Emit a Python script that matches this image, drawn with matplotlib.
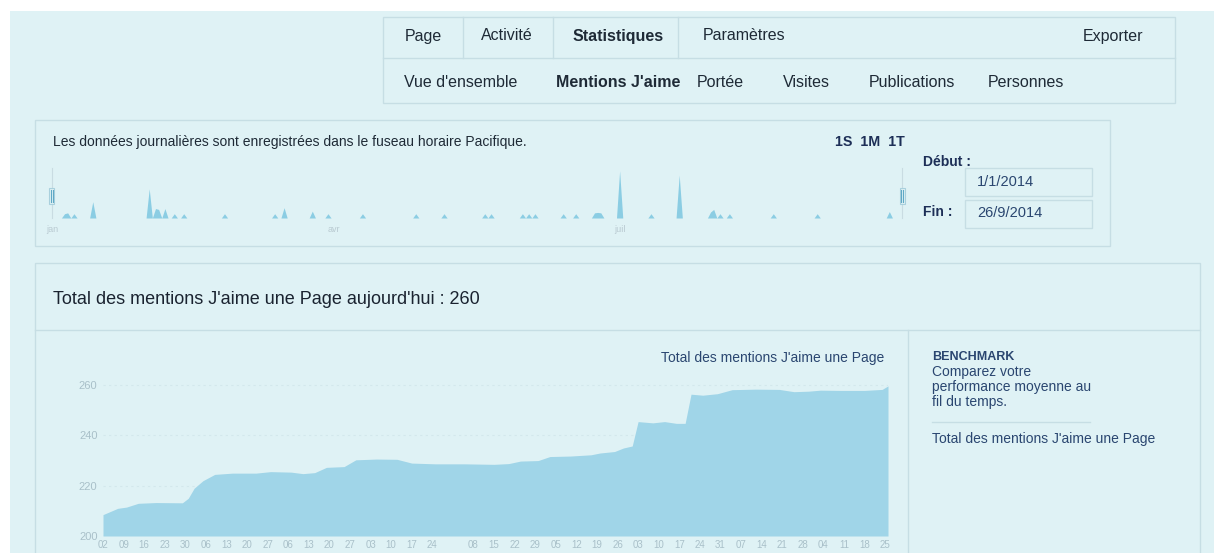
import matplotlib
matplotlib.use('Agg')
import matplotlib.pyplot as plt
from matplotlib.patches import Rectangle
from matplotlib.lines import Line2D
import pandas as pd

# cumulative page likes (main area chart)
like_dates = ['2014-01-02', '2014-01-04', '2014-01-07', '2014-01-10', '2014-01-14', '2014-01-20',
              '2014-01-29', '2014-01-31', '2014-02-02', '2014-02-05', '2014-02-09', '2014-02-15',
              '2014-02-23', '2014-02-28', '2014-03-07', '2014-03-11', '2014-03-15', '2014-03-19',
              '2014-03-25', '2014-03-29', '2014-04-05', '2014-04-12', '2014-04-17', '2014-04-25',
              '2014-05-05', '2014-05-15', '2014-05-20', '2014-05-24', '2014-05-30', '2014-06-03',
              '2014-06-10', '2014-06-17', '2014-06-20', '2014-06-25', '2014-06-28', '2014-07-01',
              '2014-07-03', '2014-07-08', '2014-07-12', '2014-07-16', '2014-07-19', '2014-07-21',
              '2014-07-25', '2014-07-30', '2014-08-04', '2014-08-12', '2014-08-20', '2014-08-25',
              '2014-08-30', '2014-09-03', '2014-09-10', '2014-09-18', '2014-09-24', '2014-09-26']
like_totals = [208.5, 209.5, 211, 211.5, 213, 213.3,
               213.2, 215, 219, 222, 224.5, 225,
               225, 225.6, 225.4, 224.8, 225.2, 227.3,
               227.6, 230.3, 230.6, 230.5, 229, 228.7,
               228.7, 228.5, 228.8, 229.8, 230, 231.6,
               231.8, 232.3, 233, 233.6, 235, 235.8,
               245.5, 245, 245.5, 244.8, 244.8, 256.4,
               256, 256.6, 258.2, 258.4, 258.3, 257.4,
               257.6, 258, 257.9, 257.9, 258.3, 259.7]

y_ticks = [200, 220, 240, 260]
week_labels = ['02', '09', '16', '23', '30', '06', '13', '20', '27', '06', '13', '20', '27',
               '03', '10', '17', '24', '', '08', '15', '22', '29', '05', '12', '19', '26',
               '03', '10', '17', '24', '31', '07', '14', '21', '28', '04', '11', '18', '25']

# daily new likes (timeline strip at the top)
spike_dates = ['2014-01-05', '2014-01-06', '2014-01-08', '2014-01-14', '2014-02-01', '2014-02-03',
               '2014-02-04', '2014-02-06', '2014-02-09', '2014-02-12', '2014-02-25', '2014-03-13',
               '2014-03-16', '2014-03-25', '2014-03-30', '2014-04-10', '2014-04-27', '2014-05-06',
               '2014-05-19', '2014-05-21', '2014-05-31', '2014-06-02', '2014-06-04', '2014-06-13',
               '2014-06-17', '2014-06-23', '2014-06-24', '2014-06-25', '2014-07-01', '2014-07-11',
               '2014-07-20', '2014-07-30', '2014-07-31', '2014-08-02', '2014-08-05', '2014-08-19',
               '2014-09-02', '2014-09-25']
spike_values = [1, 1.2, 1, 3.8, 6.8, 2.2,
                2, 2.2, 1, 1, 1, 1,
                2.4, 1.6, 1, 1, 1, 1,
                1, 1, 1, 1, 1, 1,
                1, 1.2, 1.3, 1.2, 11, 1,
                10, 1.4, 2, 1, 1, 1,
                1, 1.5]

plt.rcParams['font.family'] = ['Liberation Sans', 'DejaVu Sans']

W, H = 1214, 553
BG = '#dff2f5'
LINE = '#c6dee4'
DARK = '#1e2a36'
NAVY = '#2a4670'
FILL = '#a0d5e8'

fig = plt.figure(figsize=(W / 100, H / 100), dpi=100)
fig.patch.set_facecolor('white')


def fx(x):
    return x / W


def fy(y):
    return 1 - y / H


def txt(x, y, s, **kw):
    kw.setdefault('color', DARK)
    kw.setdefault('va', 'center')
    fig.text(fx(x), fy(y), s, zorder=6, **kw)


def rect(x0, y0, x1, y1, ec=LINE, fc='none', lw=1.0, z=1):
    fig.patches.append(Rectangle((fx(x0), fy(y1)), (x1 - x0) / W, (y1 - y0) / H,
                                 transform=fig.transFigure, fc=fc, ec=ec, lw=lw, zorder=z))


def hline(x0, x1, y, c=LINE, lw=1.0):
    fig.lines.append(Line2D([fx(x0), fx(x1)], [fy(y), fy(y)], transform=fig.transFigure,
                            color=c, lw=lw, zorder=1))


def vline(x, y0, y1, c=LINE, lw=1.0, z=1):
    fig.lines.append(Line2D([fx(x), fx(x)], [fy(y0), fy(y1)], transform=fig.transFigure,
                            color=c, lw=lw, zorder=z))


def axes_px(x0, y0, x1, y1):
    a = fig.add_axes([fx(x0), fy(y1), (x1 - x0) / W, (y1 - y0) / H])
    a.set_facecolor('none')
    a.set_zorder(5)
    for s in a.spines.values():
        s.set_visible(False)
    return a


# page background
rect(10, 11, W + 5, H + 5, ec='none', fc=BG, z=0)

# navigation tabs
rect(383, 17, 1175, 103)
hline(383, 1175, 58)
vline(463, 17, 58)
vline(553, 17, 58)
vline(678, 17, 58)
txt(405, 36, 'Page', fontsize=11.5)
txt(481, 36, 'Activité', fontsize=11.5)
txt(573, 36, 'Statistiques', fontsize=11.5, fontweight='bold')
txt(703, 36, 'Paramètres', fontsize=11.5)
txt(1143, 36, 'Exporter', fontsize=11.5, ha='right')
txt(404, 82, "Vue d'ensemble", fontsize=11.5)
txt(556, 82, "Mentions J'aime", fontsize=11.5, fontweight='bold')
txt(697, 82, 'Portée', fontsize=11.5)
txt(783, 82, 'Visites', fontsize=11.5)
txt(869, 82, 'Publications', fontsize=11.5)
txt(988, 82, 'Personnes', fontsize=11.5)

# timeline box
rect(35, 120, 1110, 246)
txt(53, 142, 'Les données journalières sont enregistrées dans le fuseau horaire Pacifique.', fontsize=10)
txt(835, 142, '1S  1M  1T', fontsize=10.3, fontweight='bold', color='#1d2f57')
txt(923, 162, 'Début :', fontsize=10, fontweight='bold', color='#1d2f57')
txt(923, 212, 'Fin :', fontsize=10, fontweight='bold', color='#1d2f57')
rect(965, 168, 1092, 196)
rect(965, 200, 1092, 228)
txt(977, 182, '1/1/2014', fontsize=10.5, color=NAVY)
txt(977, 213, '26/9/2014', fontsize=10.5, color=NAVY)

days = pd.date_range('2014-01-01', '2014-09-30', freq='D')
daily = pd.Series(0.0, index=days)
daily[pd.to_datetime(spike_dates)] = spike_values
mini = axes_px(52, 160, 905, 218)
mini.fill_between(days, 0, daily.values, color='#8bcde3', lw=0)
mini.set_xlim(pd.Timestamp('2014-01-01'), pd.Timestamp('2014-09-30'))
mini.set_ylim(0, 13.5)
mini.set_yticks([])
mini.set_xticks(pd.to_datetime(['2014-01-01', '2014-04-01', '2014-07-01']))
mini.set_xticklabels(['jan', 'avr', 'juil'])
mini.tick_params(axis='x', length=0, pad=5, labelsize=6.5, labelcolor='#b9cad1')
for hx in (52, 902):
    vline(hx, 168, 218, c='#c9dce2', lw=0.8)
    rect(hx - 2.5, 188, hx + 2.5, 204, ec='#a9d0dd', fc=BG, lw=0.8, z=3)
    vline(hx - 0.8, 190, 202, c='#5fa9c6', lw=0.8, z=4)
    vline(hx + 0.8, 190, 202, c='#5fa9c6', lw=0.8, z=4)

# main panel
rect(35, 263, 1200, H + 5)
hline(35, 1200, 330)
vline(908, 330, H + 5)
txt(53, 300, "Total des mentions J'aime une Page aujourd'hui : 260", fontsize=13, color='#1a2330')

ax = axes_px(103, 360, 888, 536)
x = pd.to_datetime(like_dates)
ax.fill_between(x, 200, like_totals, color=FILL, lw=0, zorder=2)
ax.set_xlim(pd.Timestamp('2014-01-02'), pd.Timestamp('2014-09-26'))
ax.set_ylim(200, 270)
ax.set_yticks(y_ticks)
ax.set_yticklabels([str(v) for v in y_ticks])
ax.yaxis.grid(True, color='#d3e8ec', lw=0.8, ls=(0, (2, 3)), zorder=0)
ax.set_xticks(pd.date_range('2014-01-02', '2014-09-25', freq='7D'))
ax.set_xticklabels(week_labels)
ax.tick_params(axis='both', length=0, labelcolor='#a9c0c9')
ax.tick_params(axis='y', pad=4, labelsize=8)
ax.tick_params(axis='x', pad=3, labelsize=7)
txt(884, 358, "Total des mentions J'aime une Page", fontsize=10, color=NAVY, ha='right')

# benchmark side panel
txt(932, 357, 'BENCHMARK', fontsize=9, fontweight='bold', color=NAVY)
txt(932, 372, 'Comparez votre', fontsize=10, color=NAVY)
txt(932, 387, 'performance moyenne au', fontsize=10, color=NAVY)
txt(932, 402, 'fil du temps.', fontsize=10, color=NAVY)
hline(932, 1090, 422)
txt(932, 439, "Total des mentions J'aime une Page", fontsize=10, color=NAVY)

fig.savefig('out.png', dpi=100, facecolor=fig.get_facecolor())
